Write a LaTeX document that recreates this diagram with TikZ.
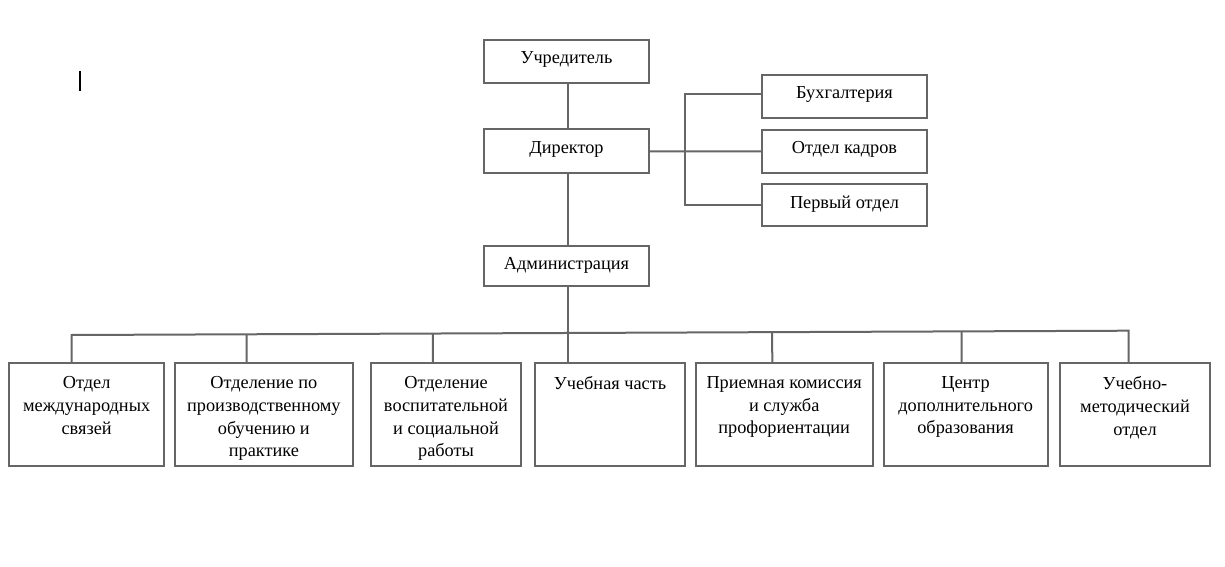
\documentclass[tikz,border=0pt]{standalone}
\usepackage{fontspec}
\setmainfont{Liberation Serif}
\usetikzlibrary{calc}
\definecolor{lc}{HTML}{666666}
\begin{document}
\begin{tikzpicture}[x=1pt,y=-1pt,
  box/.style={draw=lc, line width=2pt, rectangle, inner sep=0pt, outer sep=0pt, anchor=north west},
  txt/.style={font=\fontsize{18.3}{22.7}\selectfont, align=center, anchor=north, inner sep=0pt, text=black},
  link/.style={draw=lc, line width=2pt}]
\path[use as bounding box, fill=white] (0,0) rectangle (1225,567);
% cursor mark
\draw[line width=2.2pt, black] (80,71) -- (80,91);
% top column
\node[box, minimum width=165pt, minimum height=42.7pt] (uch) at (484,40) {};
\node[txt] (tuch) at ($(uch.north)+(0,11.5)$) {Учредитель};
\node[box, minimum width=165pt, minimum height=44pt] (dir) at (484,129.3) {};
\node[txt] (tdir) at ($(dir.north)+(0,12)$) {Директор};
\node[box, minimum width=165pt, minimum height=40pt] (adm) at (484,245.7) {};
\node[txt] (tadm) at ($(adm.north)+(0,11.5)$) {Администрация};
% right column
\node[box, minimum width=165pt, minimum height=43pt] (buh) at (762,75) {};
\node[txt] (tbuh) at ($(buh.north)+(0,11.5)$) {Бухгалтерия};
\node[box, minimum width=165pt, minimum height=42.7pt] (kad) at (762,130) {};
\node[txt] (tkad) at ($(kad.north)+(0,11.5)$) {Отдел кадров};
\node[box, minimum width=165pt, minimum height=42pt] (per) at (762,184) {};
\node[txt] (tper) at ($(per.north)+(0,11.5)$) {Первый отдел};
% bottom row
\node[box, minimum width=155.3pt, minimum height=102.7pt] (b1) at (9,363.3) {};
\node[txt] (t1) at ($(b1.north)+(0,13)$) {Отдел\\международных\\связей};
\node[box, minimum width=177.7pt, minimum height=102.7pt] (b2) at (175,363.3) {};
\node[txt] (t2) at ($(b2.north)+(0,13)$) {Отделение по\\производственному\\обучению и\\практике};
\node[box, minimum width=150pt, minimum height=102.7pt] (b3) at (371,363.3) {};
\node[txt] (t3) at ($(b3.north)+(0,13)$) {Отделение\\воспитательной\\и социальной\\работы};
\node[box, minimum width=150pt, minimum height=102.7pt] (b4) at (535,363.3) {};
\node[txt] (t4) at ($(b4.north)+(0,13)$) {Учебная часть};
\node[box, minimum width=177pt, minimum height=102.7pt] (b5) at (695.7,363.3) {};
\node[txt] (t5) at ($(b5.north)+(0,13)$) {Приемная комиссия\\и служба\\профориентации};
\node[box, minimum width=164.2pt, minimum height=102.7pt] (b6) at (883.5,363.3) {};
\node[txt] (t6) at ($(b6.north)+(0,13)$) {Центр\\дополнительного\\образования};
\node[box, minimum width=150pt, minimum height=102.7pt] (b7) at (1060,363.3) {};
\node[txt] (t7) at ($(b7.north)+(0,13)$) {Учебно-\\методический\\отдел};
% connectors
\coordinate (spine) at ($(uch.south)+(1.5,0)$);
\draw[link] (spine) -- (spine |- dir.north);
\draw[link] (spine |- dir.south) -- (spine |- adm.north);
\draw[link] (spine |- adm.south) -- (spine |- b4.north);
\draw[link] (dir.east) -- (kad.west);
\draw[link] ($(buh.west)+(0,-2.8)$) -| ($(per.west)+(-77,0)$) -- (per.west);
\coordinate (busL) at (71.7,335);
\coordinate (busR) at (1128.7,330.7);
\draw[link] ($(b1.north west)+(62.7,0)$) -- (busL) -- (busR) -- ($(b7.north west)+(68.7,0)$);
\draw[link] ($(b2.north west)+(71.7,0)$) -- ($(busL)!($(b2.north west)+(71.7,0)$)!(busR)$);
\draw[link] ($(b3.north west)+(62,0)$) -- ($(busL)!($(b3.north west)+(62,0)$)!(busR)$);
\draw[link] ($(b5.north west)+(76.6,0)$) -- ($(busL)!($(b5.north west)+(76.6,0)$)!(busR)$);
\draw[link] ($(b6.north west)+(78.2,0)$) -- ($(busL)!($(b6.north west)+(78.2,0)$)!(busR)$);
\end{tikzpicture}
\end{document}
